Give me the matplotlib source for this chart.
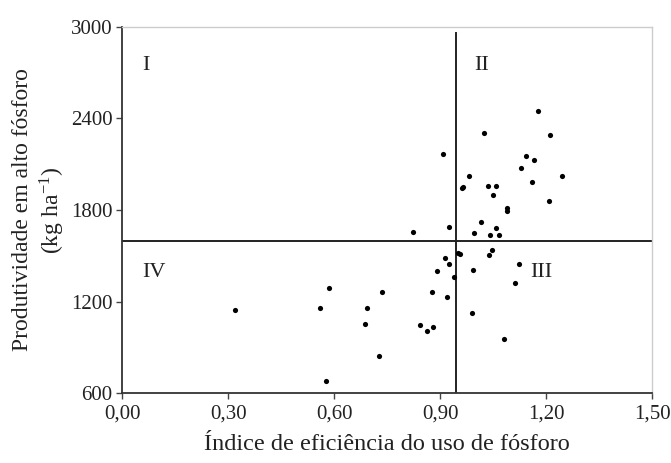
import matplotlib
matplotlib.use("Agg")
import matplotlib.pyplot as plt

plt.rcParams['font.family'] = ['Liberation Serif', 'DejaVu Serif']
plt.rcParams['mathtext.fontset'] = 'stix'

x_vals = [0.320, 0.560, 0.586, 0.576, 0.694, 0.687, 0.735, 0.728, 0.822, 0.842,
          0.862, 0.879, 0.876, 0.892, 0.909, 0.913, 0.926, 0.926, 0.919, 0.940,
          0.951, 0.957, 0.961, 0.964, 0.982, 0.990, 0.993, 0.996, 1.015, 1.024,
          1.034, 1.037, 1.040, 1.047, 1.050, 1.058, 1.058, 1.067, 1.080, 1.090,
          1.090, 1.111, 1.124, 1.129, 1.142, 1.159, 1.166, 1.177, 1.207, 1.210,
          1.246]
y_vals = [1143, 1156, 1286, 676, 1156, 1050, 1262, 841, 1658, 1043,
          1006, 1032, 1260, 1399, 2168, 1486, 1445, 1690, 1230, 1362,
          1519, 1512, 1947, 1953, 2025, 1123, 1408, 1651, 1721, 2307,
          1960, 1508, 1636, 1540, 1897, 1957, 1684, 1638, 956, 1816,
          1790, 1321, 1443, 2075, 2153, 1981, 2125, 2446, 1857, 2290,
          2023]

x_cut = 0.946
y_cut = 1595

x_ticks = [0.0, 0.3, 0.6, 0.9, 1.2, 1.5]
x_ticklabels = ['0,00', '0,30', '0,60', '0,90', '1,20', '1,50']
y_ticks = [600, 1200, 1800, 2400, 3000]

quadrants = ['I', 'II', 'III', 'IV']
quad_pos = [(0.067, 2744), (1.016, 2744), (1.185, 1393), (0.090, 1393)]

fig = plt.figure(figsize=(6.71, 4.63), dpi=100)
ax = fig.add_axes([0.182, 0.151, 0.790, 0.791])

ax.scatter(x_vals, y_vals, s=14, color='black', zorder=3, linewidths=0)
ax.axhline(y_cut, color='#222222', lw=1.4, zorder=2)
ax.plot([x_cut, x_cut], [600, 2957], color='#222222', lw=1.4, zorder=2)

for q, (qx, qy) in zip(quadrants, quad_pos):
    ax.text(qx, qy, q, fontsize=16, ha='center', va='center', color='#222222')

ax.set_xlim(0, 1.5)
ax.set_ylim(600, 3000)
ax.set_xticks(x_ticks)
ax.set_xticklabels(x_ticklabels)
ax.set_yticks(y_ticks)
ax.tick_params(axis='both', labelsize=15, direction='out', length=4, width=1,
               color='#444444', labelcolor='#222222')
ax.tick_params(axis='x', pad=4)
ax.tick_params(axis='y', pad=3)

for s in ['left', 'bottom']:
    ax.spines[s].set_color('#333333')
    ax.spines[s].set_linewidth(1.3)
for s in ['top', 'right']:
    ax.spines[s].set_color('#cccccc')
    ax.spines[s].set_linewidth(1.0)

ax.set_xlabel('Índice de eficiência do uso de fósforo', fontsize=17.5, labelpad=8, color='#222222')
ax.set_ylabel('Produtividade em alto fósforo\n(kg ha$^{\\mathregular{-1}}$)', fontsize=17,
              labelpad=3, color='#222222', linespacing=1.2)

fig.savefig('out.png', dpi=100)
